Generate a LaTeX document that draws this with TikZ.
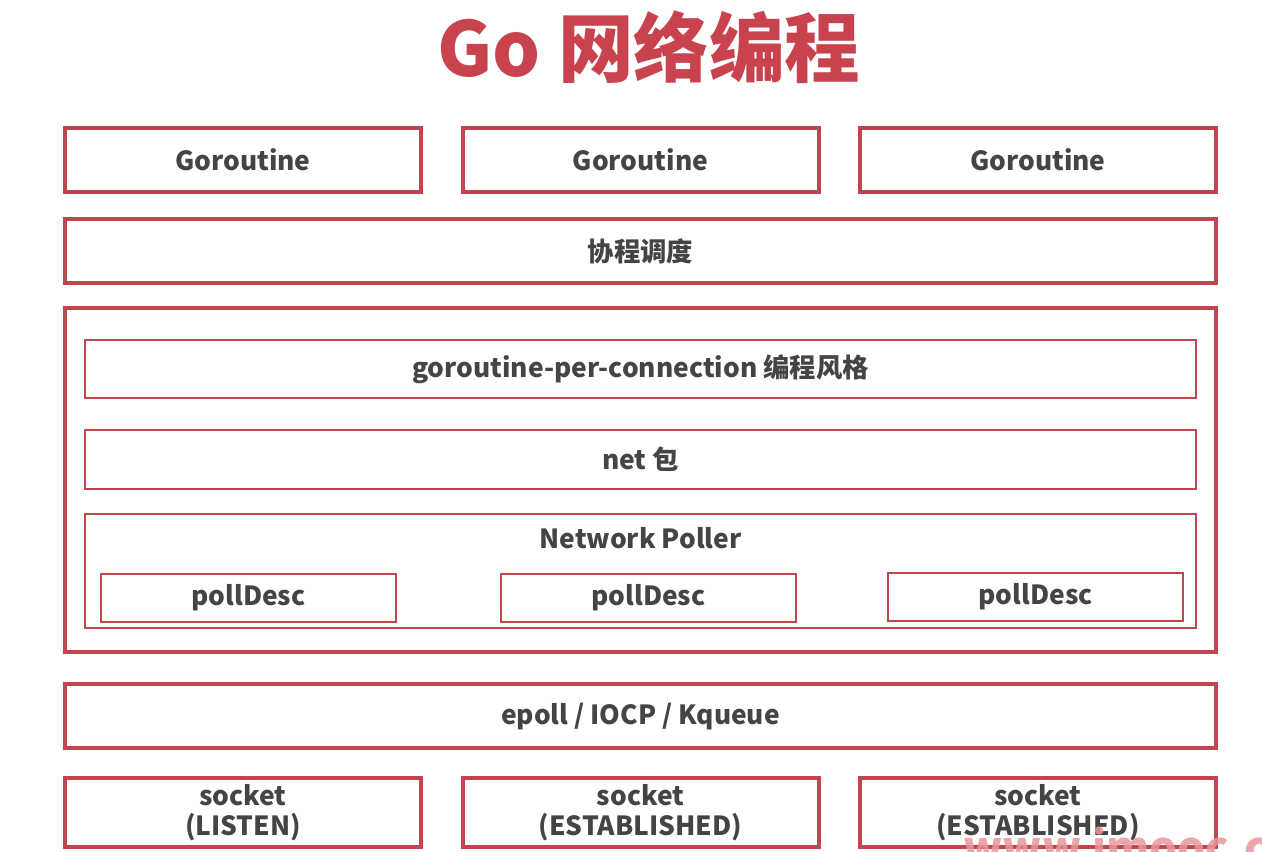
\documentclass[tikz,border=0pt]{standalone}
\usepackage{fontspec}
\setmainfont{Noto Sans CJK SC}
\usetikzlibrary{positioning}
\definecolor{boxred}{HTML}{C04550}
\definecolor{titlered}{HTML}{C9434F}
\definecolor{txtgray}{HTML}{444444}
\definecolor{markpink}{HTML}{E9979B}
\begin{document}
\begin{tikzpicture}[
  layer/.style={draw=boxred, line width=0.08cm, minimum height=1.28cm, text=txtgray, font=\fontsize{15}{17}\selectfont\bfseries, align=center},
  gbox/.style={layer, minimum width=7.12cm},
  wide/.style={layer, minimum width=23.02cm},
  inner/.style={draw=boxred, line width=0.045cm, minimum width=22.22cm, text=txtgray, font=\fontsize{15}{17}\selectfont\bfseries},
  pdbox/.style={draw=boxred, line width=0.045cm, minimum width=5.9cm, minimum height=0.96cm, text=txtgray, font=\fontsize{15}{17}\selectfont\bfseries}
]
\useasboundingbox[fill=white] (0,0) rectangle (25.24,-17.02);
\node[text=titlered, font=\fontsize{43}{48}\selectfont\bfseries] (title) at (12.98,-0.95) {Go 网络编程};
\node[gbox] (g1) at (4.86,-3.2) {Goroutine};
\node[gbox] (g2) at (12.81,-3.2) {Goroutine};
\node[gbox] (g3) at (20.76,-3.2) {Goroutine};
\node[wide] (sched) at (12.81,-5.02) {协程调度};
\node[wide, minimum height=6.88cm] (runtime) at (12.81,-9.6) {};
\node[inner, minimum height=1.16cm] (gpc) at (12.81,-7.38) {goroutine-per-connection 编程风格};
\node[inner, minimum height=1.18cm] (net) at (12.81,-9.19) {net 包};
\node[inner, minimum height=2.28cm] (poller) at (12.81,-11.42) {};
\node[text=txtgray, font=\fontsize{15}{17}\selectfont\bfseries] (pname) at ([yshift=-0.5cm]poller.north) {Network Poller};
\node[pdbox] (pd1) at (4.97,-11.96) {pollDesc};
\node[pdbox] (pd2) at (12.97,-11.96) {pollDesc};
\node[pdbox] (pd3) at (20.71,-11.94) {pollDesc};
\node[wide] (epoll) at (12.81,-14.32) {epoll / IOCP / Kqueue};
\node[gbox, minimum height=1.3cm] (s1) at (4.86,-16.25) {socket\\(LISTEN)};
\node[gbox, minimum height=1.3cm] (s2) at (12.81,-16.25) {socket\\(ESTABLISHED)};
\node[gbox, minimum height=1.3cm] (s3) at (20.76,-16.25) {socket\\(ESTABLISHED)};
\begin{scope}
\clip (0,0) rectangle (25.24,-17.02);
\node[anchor=base west, inner sep=0, text=markpink, text opacity=0.85, font=\fontsize{25}{28}\selectfont\bfseries] (mark) at (19.26,-17.26) {www.imooc.com};
\end{scope}
\end{tikzpicture}
\end{document}
